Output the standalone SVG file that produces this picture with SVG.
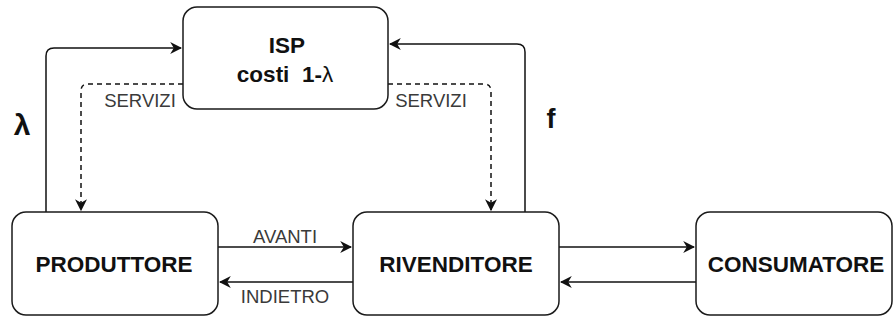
<svg xmlns="http://www.w3.org/2000/svg" width="893" height="320" viewBox="0 0 893 320">
  <style>
    .box { fill: #ffffff; stroke: #1a1a1a; stroke-width: 1.5; }
    .lbl { font-family: "Liberation Sans", Arial, sans-serif; font-weight: bold; font-size: 22.5px; fill: #111; text-anchor: middle; }
    .small { font-family: "Liberation Sans", Arial, sans-serif; font-size: 18.5px; fill: #3a3a3a; text-anchor: middle; }
    .edge { fill: none; stroke: #111; stroke-width: 1.5; }
    .dash { stroke-dasharray: 5 4; }
  </style>
  <defs>
    <marker id="arr" viewBox="0 0 10 10" refX="9" refY="5" markerWidth="12" markerHeight="12" markerUnits="userSpaceOnUse" orient="auto">
      <path d="M0,0 L10,5 L0,10 L3,5 Z" fill="#111"/>
    </marker>
  </defs>

  <g id="connectors">
    <path class="edge" d="M46,212 V56 Q46,48 54,48 H181" marker-end="url(#arr)"/>
    <path class="edge" d="M525,212 V52 Q525,44 517,44 H390" marker-end="url(#arr)"/>
    <path class="edge dash" d="M183,84 H88 Q81,84 81,91 V210" marker-end="url(#arr)"/>
    <path class="edge dash" d="M388,84 H484 Q491,84 491,91 V210" marker-end="url(#arr)"/>
    <path class="edge" d="M218,247 H351" marker-end="url(#arr)"/>
    <path class="edge" d="M353,282 H220" marker-end="url(#arr)"/>
    <path class="edge" d="M559,247 H694" marker-end="url(#arr)"/>
    <path class="edge" d="M696,282 H561" marker-end="url(#arr)"/>
    <text class="small" x="140" y="107">SERVIZI</text>
    <text class="small" x="431" y="107">SERVIZI</text>
    <text class="small" x="285" y="243">AVANTI</text>
    <text class="small" x="285" y="303">INDIETRO</text>
    <text x="22" y="135" font-family="Liberation Sans, Arial, sans-serif" font-size="30" font-weight="bold" text-anchor="middle" fill="#111">λ</text>
    <text x="551" y="128" font-family="Liberation Sans, Arial, sans-serif" font-size="27" font-weight="bold" text-anchor="middle" fill="#111">f</text>
  </g>

  <g id="isp">
    <rect class="box" x="183" y="7" width="205" height="102" rx="14"/>
    <text class="lbl" x="287" y="53">ISP</text>
    <text class="lbl" x="285" y="82" xml:space="preserve">costi  1-<tspan font-weight="normal">λ</tspan></text>
  </g>

  <g id="produttore">
    <rect class="box" x="12" y="212" width="206" height="103" rx="14"/>
    <text class="lbl" x="114" y="272">PRODUTTORE</text>
  </g>

  <g id="rivenditore">
    <rect class="box" x="353" y="212" width="206" height="103" rx="14"/>
    <text class="lbl" x="456" y="272">RIVENDITORE</text>
  </g>

  <g id="consumatore">
    <rect class="box" x="696" y="212" width="196" height="103" rx="14"/>
    <text class="lbl" x="796" y="272">CONSUMATORE</text>
  </g>
</svg>
